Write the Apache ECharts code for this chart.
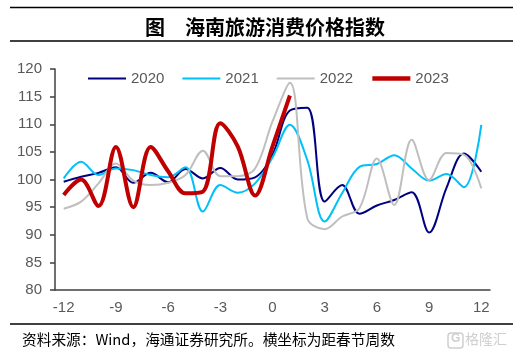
<!DOCTYPE html>
<html>
<head>
<meta charset="utf-8">
<script src="https://cdn.jsdelivr.net/npm/echarts@6/dist/echarts.min.js"></script>
<style>html,body{margin:0;padding:0;background:#fff;}#c{width:530px;height:360px;}</style>
</head>
<body>
<div id="c"></div>
<script>
var weeks = ['-12','-11','-10','-9','-8','-7','-6','-5','-4','-3','-2','-1','0','1','2','3','4','5','6','7','8','9','10','11','12'];
var s2020 = [99.6,100.5,101.2,102.2,99.4,101.2,99.5,101.9,100.2,102.1,100.0,100.4,104.5,112.5,113.0,96.0,99.0,93.8,95.3,96.3,97.7,90.4,98.5,104.7,101.4];
var s2021 = [100.2,103.2,100.8,102.0,101.7,100.8,100.4,102.2,94.2,99.0,97.6,99.3,104.0,109.9,103.5,92.4,97.5,102.3,102.8,104.4,102.0,99.8,101.0,98.6,109.9];
var s2022 = [94.7,96.0,99.3,102.9,99.8,99.0,99.4,100.8,105.2,100.6,100.6,102.0,110.5,117.5,93.0,91.0,93.3,94.8,103.8,95.4,107.2,99.9,104.8,104.5,98.4];
var s2023 = [97.2,100.0,95.2,105.9,95.0,105.9,101.5,97.5,97.8,110.2,106.0,97.1,106.0,115.2];
var seriesNames = ['2020','2021','2022','2023'];
var yTicks = {min: 80, max: 120, step: 5};

var chart = echarts.init(document.getElementById('c'), null, {renderer: 'canvas'});
var font = '"Liberation Sans", Arial, sans-serif';
var cjk = '"Noto Sans CJK SC", sans-serif';
var colors = ['#000080', '#00C0F8', '#BFBFBF', '#C00000'];
var widths = [2, 2, 2, 4];
function line(name, data, color, width) {
  return {
    name: name, type: 'line', data: data, smooth: 0.35, symbol: 'none',
    lineStyle: {color: color, width: width}, itemStyle: {color: color}, z: name === '2023' ? 5 : 2
  };
}
chart.setOption({
  animation: false,
  title: {
    text: '图　海南旅游消费价格指数', left: 'center', top: 12,
    textStyle: {fontFamily: cjk, fontSize: 20, fontWeight: 'bold', color: '#000'}
  },
  legend: {
    data: seriesNames.map(function (n, i) {
      return {name: n, lineStyle: {width: widths[i] === 4 ? 4.5 : 2, color: colors[i]}};
    }),
    left: 82, top: 66, itemWidth: 38, itemHeight: 14, itemGap: 17,
    itemStyle: {opacity: 0},
    textStyle: {fontFamily: font, fontSize: 15, color: '#595959'}
  },
  grid: {left: 55, right: 40, top: 69, bottom: 70, containLabel: false},
  xAxis: {
    type: 'category', data: weeks, boundaryGap: true,
    axisLine: {lineStyle: {color: '#404040', width: 1.5}},
    axisTick: {interval: 2, length: 5, lineStyle: {color: '#404040', width: 1.5}},
    axisLabel: {interval: 2, margin: 10, fontFamily: font, fontSize: 15, color: '#595959'},
    splitLine: {show: false}
  },
  yAxis: {
    type: 'value', min: yTicks.min, max: yTicks.max, interval: yTicks.step,
    axisLine: {show: true, lineStyle: {color: '#404040', width: 1.5}},
    axisTick: {show: true, length: 5, lineStyle: {color: '#404040', width: 1.5}},
    axisLabel: {margin: 13, fontFamily: font, fontSize: 15, color: '#595959'},
    splitLine: {show: false}
  },
  series: [
    line('2020', s2020, colors[0], widths[0]),
    line('2021', s2021, colors[1], widths[1]),
    line('2022', s2022, colors[2], widths[2]),
    line('2023', s2023, colors[3], widths[3])
  ],
  graphic: [
    {type: 'line', shape: {x1: 10, y1: 7.5, x2: 513, y2: 7.5}, style: {stroke: '#000', lineWidth: 1.5}},
    {type: 'line', shape: {x1: 10, y1: 41, x2: 513, y2: 41}, style: {stroke: '#000', lineWidth: 1.5}},
    {type: 'line', shape: {x1: 10, y1: 324, x2: 513, y2: 324}, style: {stroke: '#000', lineWidth: 1.5}},
    {type: 'text', left: 22, top: 332, style: {text: '资料来源：Wind，海通证券研究所。横坐标为距春节周数', font: '14.7px ' + cjk, fill: '#000'}},
    {type: 'rect', shape: {x: 448, y: 333, width: 15, height: 15, r: 3}, style: {fill: 'none', stroke: '#cfcfcf', lineWidth: 1.5}},
    {type: 'text', left: 451, top: 333, style: {text: 'G', font: 'bold 12px ' + font, fill: '#cfcfcf'}},
    {type: 'text', left: 465, top: 332, style: {text: '格隆汇', font: '14px ' + cjk, fill: '#cfcfcf'}}
  ]
});
</script>
</body>
</html>
